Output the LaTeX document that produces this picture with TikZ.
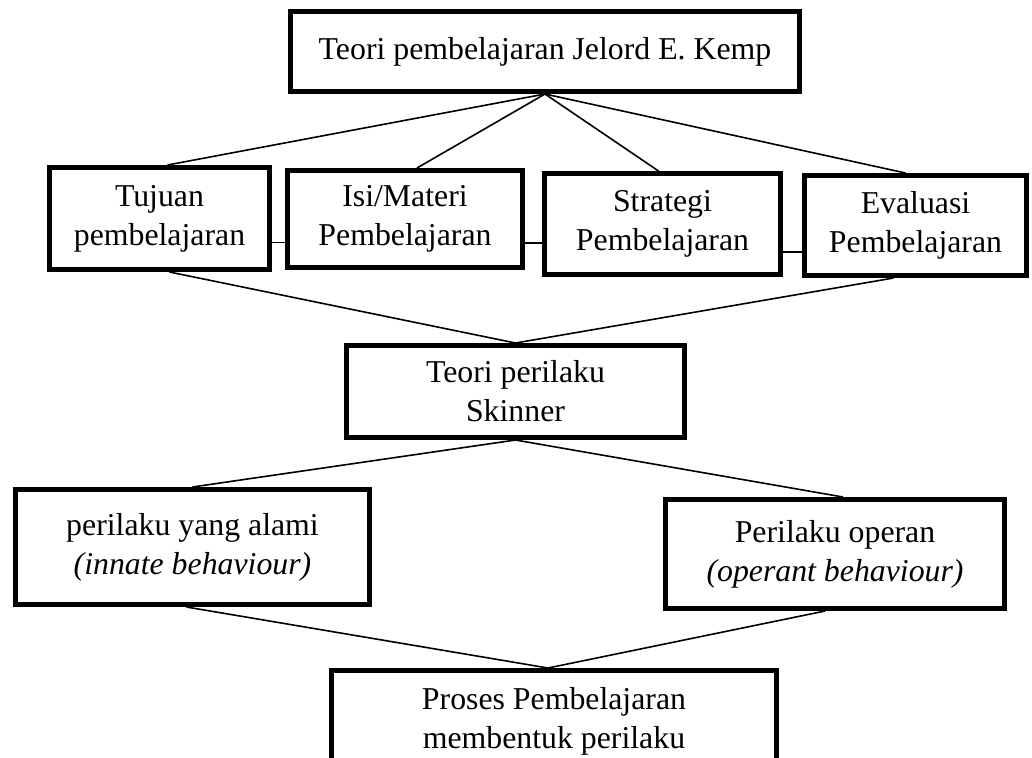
\documentclass[tikz,border=0pt]{standalone}
\usepackage{fontspec}
\setmainfont{Liberation Serif}

\begin{document}
\begin{tikzpicture}[x=0.5pt,y=-0.5pt,box/.style={draw,line width=2.5pt,align=center,inner sep=0pt},lnk/.style={line width=0.8pt},font=\fontsize{15.9}{19.5}\selectfont]
\useasboundingbox (0,0) rectangle (1032,757);
\clip (0,0) rectangle (1032,757);
\node[box,minimum width=254.5pt,minimum height=40pt](kemp) at (545,51.5){Teori pembelajaran Jelord E. Kemp};
\node[box,minimum width=110pt,minimum height=51pt](tujuan) at (159.5,218.5){Tujuan\\pembelajaran};
\node[box,minimum width=117.5pt,minimum height=48.5pt](isi) at (405,219){Isi/Materi\\Pembelajaran};
\node[box,minimum width=118pt,minimum height=50.5pt](strategi) at (662.5,224){Strategi\\Pembelajaran};
\node[box,minimum width=111pt,minimum height=50pt](evaluasi) at (915.5,225.5){Evaluasi\\Pembelajaran};
\node[box,minimum width=169pt,minimum height=46pt](skinner) at (515.5,391.5){Teori perilaku\\Skinner};
\node[box,minimum width=177pt,minimum height=57.5pt](alami) at (192.5,547){perilaku yang alami\\\textit{(innate behaviour)}};
\node[box,minimum width=169.5pt,minimum height=54.5pt](operan) at (835,554){Perilaku operan\\\textit{(operant behaviour)}};
\node[box,minimum width=222.5pt,minimum height=50.5pt](proses) at (554,721){Proses Pembelajaran\\membentuk perilaku};
% kemp ke empat komponen
\foreach \n/\s in {tujuan/4pt,isi/6pt,strategi/-2pt,evaluasi/-5pt}{\draw[lnk](kemp.south)--([xshift=\s]\n.north);}
\draw[lnk]([yshift=-12pt]tujuan.east)--([yshift=-12pt]tujuan.east -| isi.west);
\draw[lnk]([yshift=-12pt]isi.east)--([yshift=-12pt]isi.east -| strategi.west);
\draw[lnk]([yshift=-14pt]strategi.east)--([yshift=-14pt]strategi.east -| evaluasi.west);
% ke skinner
\draw[lnk]([xshift=5pt]tujuan.south)--(skinner.north);
\draw[lnk]([xshift=-11pt]evaluasi.south)--(skinner.north);
\draw[lnk](skinner.south)--(alami.north);
\draw[lnk](skinner.south)--([xshift=4pt]operan.north);
% ke proses
\draw[lnk]([xshift=-3pt]alami.south)--([xshift=-3pt]proses.north);
\draw[lnk]([xshift=-5pt]operan.south)--([xshift=-3pt]proses.north);
\end{tikzpicture}
\end{document}
